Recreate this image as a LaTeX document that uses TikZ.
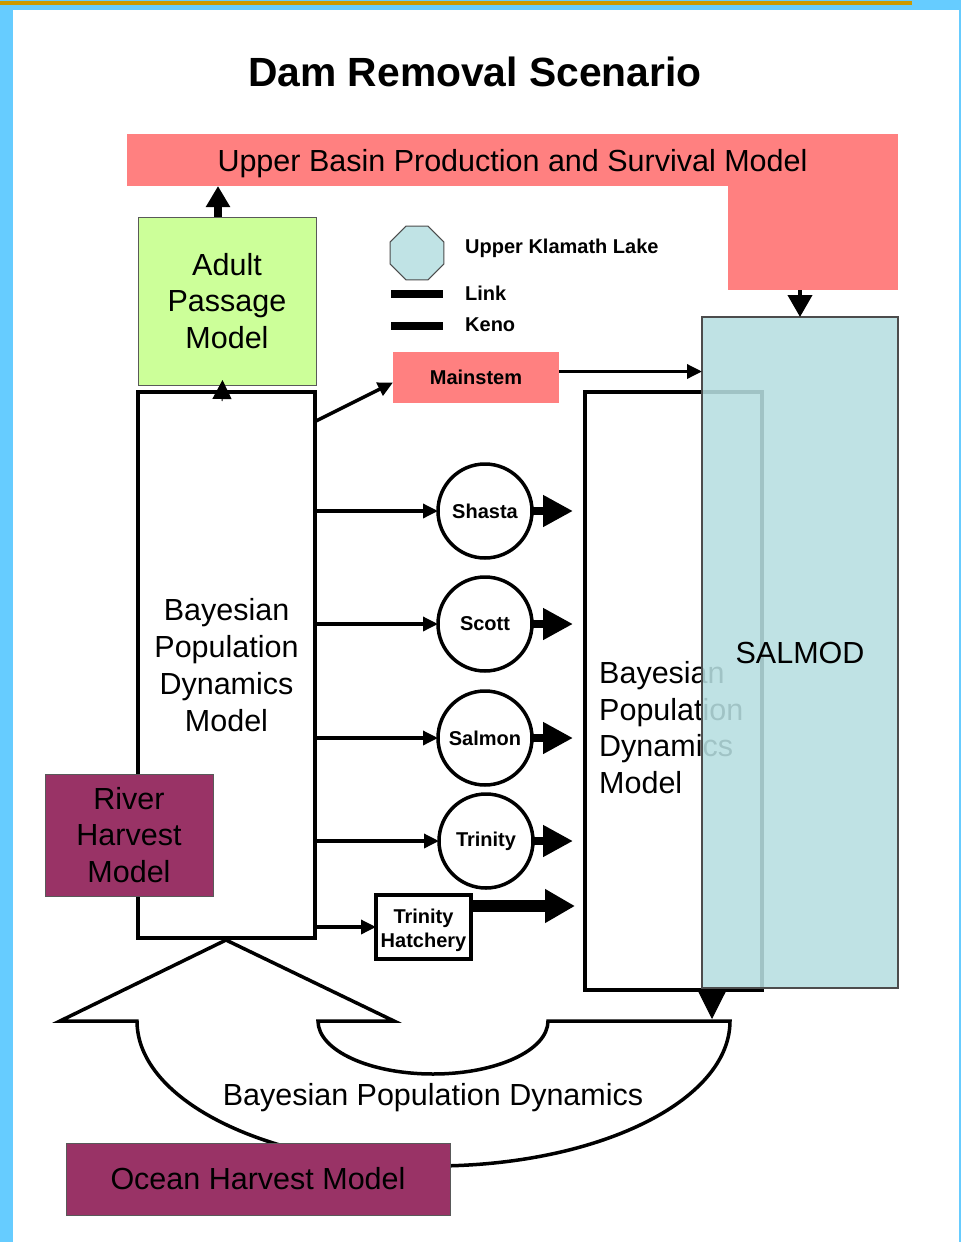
\documentclass[tikz,border=0pt]{standalone}
\usepackage{fontspec}
\setmainfont{Liberation Sans}
\usetikzlibrary{arrows.meta,shapes.geometric}
\definecolor{framecol}{RGB}{102,204,255}
\definecolor{goldline}{RGB}{204,153,0}
\definecolor{pinkbox}{RGB}{255,128,128}
\definecolor{greenbox}{RGB}{204,255,153}
\definecolor{purplebox}{RGB}{153,51,102}
\definecolor{lakeblue}{RGB}{192,227,229}
\definecolor{salmodblue}{RGB}{183,223,225}
\newcommand\fsbig{\fontsize{30.5}{36.8}\selectfont}
\newcommand\fssmall{\fontsize{20}{24}\selectfont\bfseries}
\newcommand\fstitle{\fontsize{40.8}{48}\selectfont\bfseries}
\begin{document}
\begin{tikzpicture}[x=1pt,y=-1pt,
  box/.style={inner sep=0pt, outer sep=0pt, align=center},
  thinbord/.style={draw=gray!70!black, line width=1pt},
  thickbord/.style={draw=black, line width=4pt, fill=white},
  circ/.style={circle, draw=black, line width=3.5pt, fill=white, minimum size=94pt, inner sep=0pt, outer sep=0pt, font=\fssmall},
  thinarr/.style={line width=3.4pt, -{Triangle[length=15pt,width=14pt]}},
  fatarr/.style={line width=8pt, -{Triangle[length=30pt,width=30pt]}},
  fatterarr/.style={line width=12pt, -{Triangle[length=30pt,width=32pt]}},
  adarr/.style={line width=8pt, -{Triangle[length=21pt,width=23pt]}},
  headonly/.style={line width=1pt, -{Triangle[length=#1,width=#1]}},
  legtxt/.style={font=\fssmall, anchor=west, inner sep=0pt}
]
\useasboundingbox (0,0) rectangle (961,1242);
% frame
\fill[framecol] (0,0) rectangle (961,1242);
\fill[white] (13,10) rectangle (959,1242);
\fill[goldline] (0,1) rectangle (912,5);

% title
\node[font=\fstitle] (title) at (475,72) {Dam Removal Scenario};

% upper basin
\node[box, fill=pinkbox, minimum width=771pt, minimum height=52pt, font=\fsbig, text depth=0pt] (ub) at (512.5,160) {Upper Basin Production and Survival Model};
\fill[pinkbox] (728,185) rectangle (898,290);
\coordinate (ubr) at (800,290);

% adult passage
\node[box, fill=greenbox, thinbord, minimum width=178pt, minimum height=168pt, font=\fsbig] (adult) at (227,301) {Adult\\Passage\\Model};

% left Bayesian box
\node[box, thickbord, minimum width=177pt, minimum height=546pt, font=\fsbig] (lbox) at (226.5,665) {Bayesian\\Population\\Dynamics\\Model};

% river harvest
\node[box, fill=purplebox, thinbord, minimum width=168pt, minimum height=122pt, font=\fsbig] (river) at (129,835) {River\\Harvest\\Model};

% legend
\node[regular polygon, regular polygon sides=8, minimum size=58pt, fill=lakeblue, draw=gray!60!black, line width=1pt, inner sep=0pt] (ukl) at (417,253) {};
\node[legtxt] (ukltxt) at (465,248) {Upper Klamath Lake};
\draw[line width=8pt] (391,294) -- (443,294);
\node[legtxt] (linktxt) at (465,293) {Link};
\draw[line width=8pt] (391,326) -- (443,326);
\node[legtxt] (kenotxt) at (465,325) {Keno};

% mainstem
\node[box, fill=pinkbox, minimum width=166pt, minimum height=51pt, font=\fssmall, text depth=0pt] (main) at (476,377.5) {Mainstem};

% tributaries
\node[circ] (shasta) at (485,511) {Shasta};
\node[circ] (scott) at (485,624) {Scott};
\node[circ] (salmon) at (485,738) {Salmon};
\node[circ] (trinity) at (486,841) {Trinity};
\node[box, draw=black, line width=3.5pt, fill=white, minimum width=95pt, minimum height=64pt,
  label={[font=\fssmall, align=center, inner sep=0pt, yshift=-3pt]center:{Trinity\\Hatchery}}] (hatch) at (423.5,927) {};

% right Bayesian box
\node[box, thickbord, minimum width=177pt, minimum height=598pt] (rbox) at (673.5,691) {};
\node[font=\fsbig, align=left, anchor=west, inner sep=0pt] (rtext) at (599,727.5) {Bayesian\\Population\\Dynamics\\Model};

% SALMOD
\node[box, fill=salmodblue, fill opacity=0.88, text opacity=1, draw=gray!60!black, draw opacity=1, line width=1.2pt, minimum width=196pt, minimum height=671pt, font=\fsbig] (salmod) at (800,652.5) {SALMOD};

% big curved arrow
\draw[line width=3.5pt, fill=white, line join=miter] (226,940) -- (394,1021) -- (318,1021)
  arc[start angle=180, end angle=0, x radius=115, y radius=53] -- (730,1021)
  arc[start angle=0, end angle=180, x radius=296.5, y radius=145] -- (60,1021) -- cycle;
\coordinate (bpdin) at (712,1019);
\node[font=\fsbig] (bpdtxt) at (433,1098) {Bayesian Population Dynamics};

% ocean harvest
\node[box, fill=purplebox, thinbord, minimum width=384pt, minimum height=72pt, font=\fsbig] (ocean) at (258,1179) {Ocean Harvest Model};

% connectors
\coordinate (aout) at ([xshift=-9pt]adult.north);
\draw[adarr] (aout) -- (aout |- ub.south);
\draw[headonly=19pt] ([xshift=-4.5pt,yshift=-9pt]lbox.north) -- ([xshift=-4.5pt,yshift=5pt]adult.south);
\draw[line width=4pt, -{Triangle[length=22pt,width=24pt]}] (ubr) -- (salmod.north);
\coordinate (m0) at (316,421);
\draw[thinarr] (m0) -- ([yshift=-5pt]main.west);
\coordinate (mout) at ([yshift=6pt]main.east);
\draw[thinarr] (mout) -- (mout -| salmod.west);
\foreach \c in {shasta,scott,salmon,trinity}{
  \draw[thinarr] (\c.west -| lbox.east) -- (\c.west);
  \draw[fatarr] (\c.east) -- ([xshift=-12pt]\c.east -| rbox.west);
}
\draw[thinarr] (hatch.west -| lbox.east) -- (hatch.west);
\coordinate (hatchout) at ([yshift=21pt]hatch.east);
\draw[fatterarr] (hatchout) -- ([xshift=-10pt]hatchout -| rbox.west);
\draw[headonly=27pt] ([xshift=38.5pt]rbox.south) -- (bpdin);
\end{tikzpicture}
\end{document}
